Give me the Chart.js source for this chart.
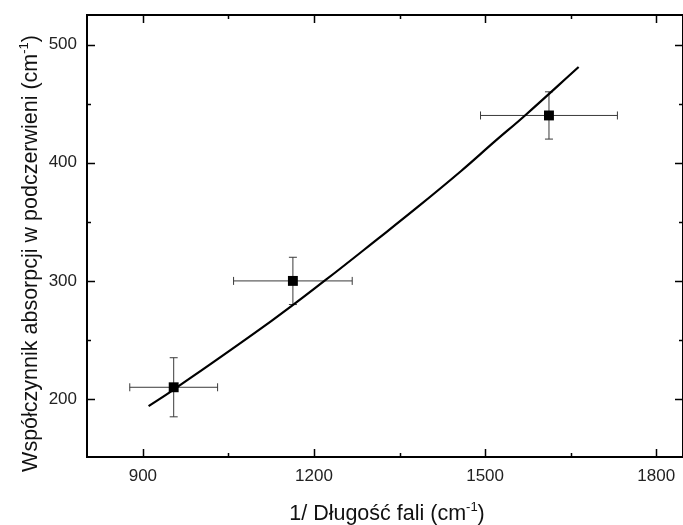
<!DOCTYPE html>
<html>
<head>
<meta charset="utf-8">
<script src="https://cdn.jsdelivr.net/npm/chart.js@4/dist/chart.umd.min.js"></script>
<style>
    html, body { margin: 0; padding: 0; background: #fff; overflow: hidden; }
    #wrap { width: 683px; height: 525px; }
</style>
</head>
<body>
<div id="wrap"><canvas id="chart" width="683" height="525"></canvas></div>
<script>
// measured points with error bars
var pointX = [954, 1163, 1612];
var pointY = [210, 300, 440];
var xErr = [77, 104, 120];
var yErr = [25, 20, 20];

// fitted curve
var fitX = [910, 954, 1125, 1221, 1313, 1383, 1458, 1517, 1570, 1664];
var fitY = [194, 208, 266, 301, 336, 363, 393, 418, 440, 481];

// axes
var xTicks = [900, 1200, 1500, 1800];
var xMinor = [1050, 1350, 1650];
var yTicks = [200, 300, 400, 500];
var yMinor = [250, 350, 450];
var xTitle = '1/ Długość fali (cm';
var yTitle = 'Współczynnik absorpcji w podczerwieni (cm';
var titleSup = '-1';

var FONT = '"Liberation Sans", Arial, sans-serif';

// error bars under the markers
var errorBars = {
    id: 'errorBars',
    beforeDatasetsDraw: function(chart) {
        var c = chart.ctx, xs = chart.scales.x, ys = chart.scales.y;
        c.save();
        c.strokeStyle = '#3a3a3a';
        c.lineWidth = 1;
        for (var i = 0; i < pointX.length; i++) {
            var px = xs.getPixelForValue(pointX[i]), py = ys.getPixelForValue(pointY[i]);
            var x1 = xs.getPixelForValue(pointX[i] - xErr[i]), x2 = xs.getPixelForValue(pointX[i] + xErr[i]);
            var y1 = ys.getPixelForValue(pointY[i] - yErr[i]), y2 = ys.getPixelForValue(pointY[i] + yErr[i]);
            c.beginPath();
            c.moveTo(x1, py); c.lineTo(x2, py);
            c.moveTo(x1, py - 4); c.lineTo(x1, py + 4);
            c.moveTo(x2, py - 4); c.lineTo(x2, py + 4);
            c.moveTo(px, y1); c.lineTo(px, y2);
            c.moveTo(px - 4, y1); c.lineTo(px + 4, y1);
            c.moveTo(px - 4, y2); c.lineTo(px + 4, y2);
            c.stroke();
        }
        c.restore();
    }
};

// box frame with inward ticks + axis titles
var frame = {
    id: 'frame',
    afterDraw: function(chart) {
        var c = chart.ctx, a = chart.chartArea, xs = chart.scales.x, ys = chart.scales.y;
        c.save();
        c.strokeStyle = '#000';
        c.lineWidth = 2;
        c.strokeRect(a.left, a.top, a.right - a.left, a.bottom - a.top);
        c.beginPath();
        function xt(vals, len) {
            vals.forEach(function(v) {
                var p = Math.round(xs.getPixelForValue(v)) + 0.5;
                c.moveTo(p, a.bottom); c.lineTo(p, a.bottom - len);
                c.moveTo(p, a.top); c.lineTo(p, a.top + len);
            });
        }
        function yt(vals, len) {
            vals.forEach(function(v) {
                var p = Math.round(ys.getPixelForValue(v)) + 0.5;
                c.moveTo(a.left, p); c.lineTo(a.left + len, p);
                c.moveTo(a.right, p); c.lineTo(a.right - len, p);
            });
        }
        c.lineWidth = 1.5;
        xt(xTicks, 8); xt(xMinor, 4);
        yt(yTicks, 8); yt(yMinor, 4);
        c.stroke();

        // titles with superscript
        c.fillStyle = '#111';
        c.textBaseline = 'alphabetic';
        c.textAlign = 'left';
        var big = '21.5px ' + FONT, small = '13px ' + FONT;
        c.font = big;
        var w1 = c.measureText(xTitle).width, wp = c.measureText(')').width;
        c.font = small;
        var ws = c.measureText(titleSup).width;
        var sx = 387 - (w1 + ws + wp) / 2, by = 520;
        c.font = big; c.fillText(xTitle, sx, by);
        c.font = small; c.fillText(titleSup, sx + w1, by - 9);
        c.font = big; c.fillText(')', sx + w1 + ws, by);

        c.translate(37, 35);
        c.rotate(-Math.PI / 2);
        c.font = big;
        var w2 = c.measureText(yTitle).width;
        var st = -(w2 + ws + wp);
        c.fillText(yTitle, st, 0);
        c.font = small; c.fillText(titleSup, st + w2, -9);
        c.font = big; c.fillText(')', st + w2 + ws, 0);
        c.restore();
    }
};

new Chart(document.getElementById('chart'), {
    type: 'scatter',
    data: {
        datasets: [
            {
                data: fitX.map(function(x, i) { return { x: x, y: fitY[i] }; }),
                showLine: true,
                borderColor: '#000',
                borderWidth: 2.2,
                pointRadius: 0,
                tension: 0.4,
                order: 2
            },
            {
                data: pointX.map(function(x, i) { return { x: x, y: pointY[i] }; }),
                pointStyle: 'rect',
                pointRadius: 7,
                backgroundColor: '#000',
                borderColor: '#000',
                borderWidth: 0,
                order: 1
            }
        ]
    },
    options: {
        responsive: false,
        animation: false,
        devicePixelRatio: 1,
        layout: { autoPadding: false, padding: { top: 15, right: -2, bottom: 0, left: 0 } },
        plugins: { legend: { display: false }, tooltip: { enabled: false } },
        scales: {
            x: {
                min: 802, max: 1847,
                afterBuildTicks: function(s) { s.ticks = xTicks.map(function(v) { return { value: v }; }); },
                afterFit: function(s) { s.height = 68; s.paddingLeft = 0; s.paddingRight = 0; },
                grid: { display: false, drawTicks: false },
                border: { display: false },
                ticks: {
                    padding: 9, color: '#222', maxRotation: 0,
                    font: { family: FONT, size: 17 },
                    callback: function(v) { return String(v); }
                }
            },
            y: {
                min: 151, max: 525,
                afterBuildTicks: function(s) { s.ticks = yTicks.map(function(v) { return { value: v }; }); },
                afterFit: function(s) { s.width = 87; s.paddingTop = 0; s.paddingBottom = 0; },
                grid: { display: false, drawTicks: false },
                border: { display: false },
                ticks: {
                    padding: 10, color: '#222',
                    font: { family: FONT, size: 17 },
                    callback: function(v) { return String(v); }
                }
            }
        }
    },
    plugins: [errorBars, frame]
});
</script>
</body>
</html>
